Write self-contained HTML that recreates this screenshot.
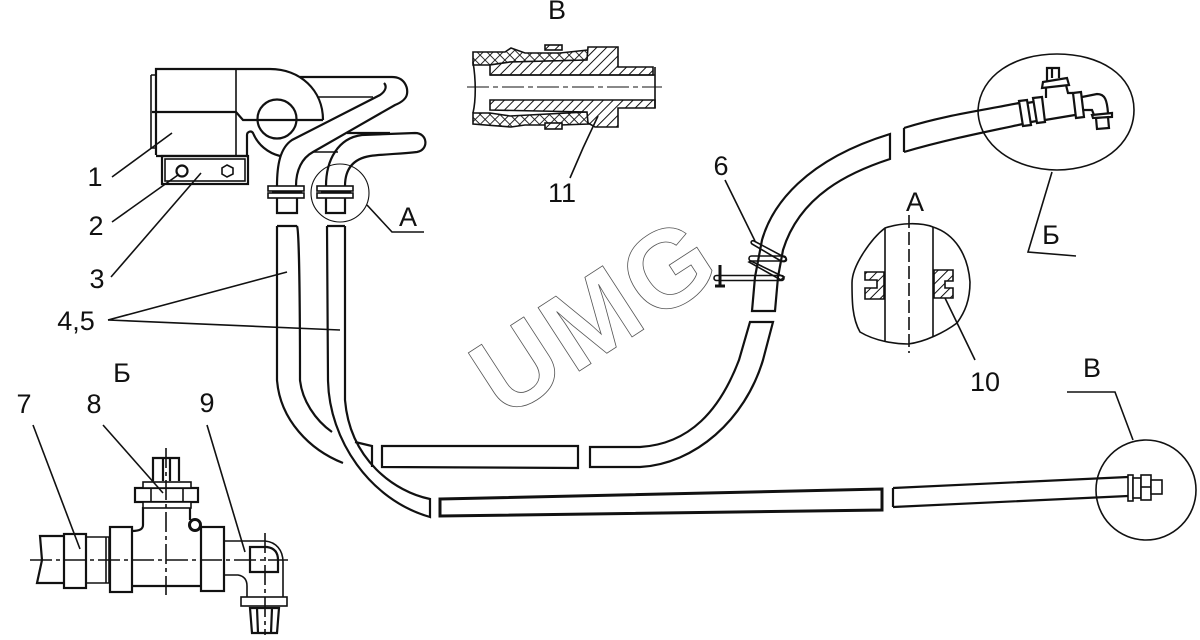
<!DOCTYPE html>
<html><head><meta charset="utf-8"><style>
html,body{margin:0;padding:0;background:#fff}svg{display:block}
text{font-family:"Liberation Sans",sans-serif;font-size:27px;fill:#111;text-anchor:middle}
.s path,.s line,.s rect,.s circle,.s polygon,.s polyline,.s ellipse{stroke:#111;fill:none;stroke-width:1.6}
.s .t,.t{stroke-width:2.2!important}.s .n,.n{stroke-width:1.1!important}
.s .w{fill:#fff}
</style></head><body>
<svg width="1200" height="640" viewBox="0 0 1200 640" xmlns="http://www.w3.org/2000/svg">
<defs>
<pattern id="h" width="7" height="7" patternUnits="userSpaceOnUse" patternTransform="rotate(45)"><rect width="7" height="7" fill="#fff"/><line x1="0" y1="0" x2="0" y2="7" stroke="#111" stroke-width="2"/></pattern>
<pattern id="x" width="7" height="7" patternUnits="userSpaceOnUse" patternTransform="rotate(45)"><rect width="7" height="7" fill="#fff"/><path d="M0 0V7M0 0H7" stroke="#111" stroke-width="1.8" fill="none"/></pattern>
</defs>
<g transform="translate(504 420) rotate(-33)"><text x="0" y="0" style="font-size:110px;font-weight:bold;letter-spacing:3px;text-anchor:start;fill:none;stroke:#555;stroke-width:.8">UMG</text></g>
<g class="s">
<!-- top-left assembly -->
<path d="M151 75H156M151 75V148H156"/>
<path d="M156 155V69H270C300 69 323 90 323 120" class="t"/>
<path d="M156 156H247V135C247 132 251 130 253 133C258 145 268 153 280 156" class="t"/>
<line x1="236" y1="69" x2="236" y2="156"/>
<path d="M152 112H236L243 120H323" class="t"/>
<circle cx="277" cy="119" r="19.5" class="t"/>
<path d="M300 77H392C405 77 408 88 407 94C406 100 400 103 395 105L313 152C302 158 296 170 296 186" class="t"/>
<path d="M277 186C277 165 280 148 292 140L380 95C386 91 387 86 384 83" class="t"/>
<line x1="318" y1="97" x2="373" y2="97"/>
<line x1="313" y1="152" x2="338" y2="152"/>
<path d="M326 186C326 160 338 138 362 135L415 133C428 133 429 150 417 152C400 154 385 154 370 156C352 159 345 170 345 186" class="t"/>
<line x1="347" y1="133" x2="390" y2="133" class="t"/>
<rect x="162" y="156" width="86" height="28" class="t"/><rect x="165" y="159" width="80" height="22"/>
<circle cx="182" cy="171" r="5.5" class="t"/>
<polygon points="227,165 233,168 233,174 227,177 222,174 222,168"/>
<rect x="268" y="186" width="36" height="5"/><rect x="268" y="193" width="36" height="5" /><line x1="272" y1="192" x2="302" y2="192"/>
<rect x="317" y="186" width="36" height="5"/><rect x="317" y="193" width="36" height="5"/><line x1="321" y1="192" x2="351" y2="192"/>
<path d="M277 198V213H297V198M326 198V213H345V198" class="t"/>
<circle cx="340" cy="193" r="29" class="n"/>
<polyline points="367,205 392,232 424,232"/>
<line x1="112" y1="177" x2="172" y2="133" /><line x1="112" y1="222" x2="178" y2="175"/><line x1="111" y1="277" x2="201" y2="173"/>
<line x1="108" y1="320" x2="287" y2="272"/><line x1="108" y1="320" x2="340" y2="330"/>
<!-- tubes -->
<path d="M277 226H297M297 226C299 230 300 300 300 380C302 400 315 420 332 432M355 442L372 446V467M277 226V380C280 420 310 450 343 463" class="t"/>
<path d="M345 226H327M327 226L328 380C329 440 370 500 430 517V499C395 492 350 460 345 400V226" class="t"/>
<polygon points="382,446 578,446 578,468 382,467" class="t"/>
<path d="M590 447H640C690 444 720 410 739 360L750 322H773L763 360C745 420 695 464 640 467H590Z" class="t"/>
<path d="M752 311L755 277L762 240C772 205 805 160 890 134V159C850 172 800 195 783 250L778 277L775 311Z" class="t"/>
<path d="M904 128C945 115 985 110 1019 103M904 152C945 140 985 132 1023 124M904 128V152" class="t"/>
<polygon points="440,499 882,489 882,510 440,516" class="t" style="stroke-width:3!important"/>
<path d="M893 488L1128 477M893 507L1128 496M893 488V507" class="t"/>
<!-- spring -->
<line x1="725" y1="180" x2="755" y2="241"/>
<g class="n" style="stroke-width:1.4">
<path d="M754 241L786 258C788 262 783 262 781 261L752 244C750 242 752 240 754 241Z"/>
<rect x="749" y="256" width="37" height="5" rx="2.5"/>
<path d="M751 261L784 277L781 280L749 262Z"/>
<rect x="714" y="275.500" width="70" height="5" rx="2.5"/>
</g>
<path d="M720 265V286M715 286H725" class="t" style="stroke-width:3!important"/>
<!-- Б circle -->
<path d="M978 110C980 75 1015 54 1057 54C1100 54 1134 75 1134 110C1134 145 1100 170 1057 170C1015 170 978 145 978 110Z"/>
<polyline points="1052,172 1028,252 1076,256"/>
<path d="M1027 103L1033 102M1031 122L1037 121" class="t"/>
<polygon points="1019,101 1027,100 1031,125 1023,126" class="w t"/><polygon points="1033,98 1042,97 1045,122 1037,123" class="w t"/>
<path d="M1046 98V88M1066 85L1068 93H1073M1045 120L1075 115" class="t"/>
<polygon points="1043,82 1067,78 1069,85 1042,88" class="w t"/>
<path d="M1047 81L1047 68H1059L1059 78M1052 68V78" class="t"/>
<polygon points="1073,93 1081,92 1084,117 1076,118" class="w t"/>
<path d="M1082 97L1097 94C1105 94 1107 100 1108 113M1084 110H1092L1094 115" class="t"/>
<path d="M1092 115L1112 113V117L1093 118ZM1096 118L1108 117L1109 128L1097 129Z" class="w t"/>
<!-- Detail В top -->
<path d="M473 52H505L511 48L525 53H560L588 50L587 60L510 62L490 65H473Z" style="fill:url(#x)"/>
<path d="M473 113H490L510 116L587 112L589 124L560 125H525L511 127L473 124Z" style="fill:url(#x)"/>
<path d="M490 75V65L510 62L587 60L588 47H618V67H653V75H490Z" style="fill:url(#h)"/>
<path d="M490 100V110L587 112L588 123L595 127H618V108H655V100H490Z" style="fill:url(#h)"/>
<path d="M473 62C476 80 476 100 473 113"/>
<rect x="545" y="45" width="17" height="5" style="fill:url(#h)"/><rect x="545" y="123" width="17" height="6" style="fill:url(#h)"/>
<path d="M490 75H655V67M655 100V108M655 75V100"/>
<path d="M467 87H662" stroke-dasharray="22 4 5 4" class="n"/>
<polyline points="598,116 583,148 570,178"/>
<!-- Detail А -->
<path d="M885 228C900 223 920 222 933 227C955 234 968 255 970 282C970 300 965 312 957 323C945 332 925 342 908 344C895 344 875 341 860 332C852 318 852 300 852 283C852 265 872 238 885 228Z"/>
<path d="M885 228V341M933 227V337"/>
<path d="M909 215V353" stroke-dasharray="13 4"/>
<path d="M865 272H884V299H865V288H877V280H865Z" style="fill:url(#h)"/>
<path d="M934 270H953V281H945V288H953V298H934Z" style="fill:url(#h)"/>
<line x1="945" y1="298" x2="975" y2="360"/>
<!-- В circle -->
<circle cx="1146" cy="490" r="50"/>
<rect x="1128" y="475" width="5" height="26" class="w"/><rect x="1133" y="478" width="8" height="20" class="w"/><rect x="1141" y="475" width="10" height="25" class="w"/><line x1="1141" y1="487" x2="1151" y2="487"/><rect x="1151" y="480" width="11" height="14" class="w"/>
<polyline points="1067,392 1115,392 1133,440"/>
<!-- Detail Б lower-left -->
<path d="M65 536H40L42 560L37 583H65" class="t"/>
<rect x="64" y="534" width="22" height="54" class="w t"/>
<path d="M86 537H109V583H86M106 537V583"/>
<rect x="110" y="527" width="22" height="65" class="w t"/>
<path d="M132 531C140 531 143 529 143 525V507M132 586H201M190 507V520" class="t"/>
<rect x="135" y="488" width="63" height="14" class="w t"/><path d="M151 488V502M183 488V502"/>
<rect x="143" y="482" width="48" height="6" class="w"/>
<rect x="143" y="502" width="48" height="6" class="w"/>
<path d="M153 481V458H179V481M163 458V481M170 458V481" class="t"/>
<circle cx="195" cy="525" r="5.500" class="t" style="stroke-width:3!important"/>
<rect x="201" y="527" width="23" height="64" class="w t"/>
<path d="M224 541H265C276 542 283 550 283 562V597M224 575H238C244 576 247 580 247 586V597"/>
<path d="M250 547H267C274 548 278 552 278 560V572H250Z" class="t"/>
<rect x="241" y="597" width="46" height="9" class="w"/>
<path d="M250 608L252 633H277L279 608ZM257 608L258 633M272 608L271 633" class="t"/>
<path d="M30 560H288" stroke-dasharray="22 4 4 4"/>
<path d="M166 448V595M265 533V635" stroke-dasharray="20 4 4 4"/>
<line x1="33" y1="425" x2="80" y2="549"/><line x1="103" y1="425" x2="163" y2="493"/><line x1="207" y1="425" x2="245" y2="552"/>
</g>
<text x="95" y="186">1</text><text x="96" y="235">2</text><text x="97" y="288">3</text>
<text x="76" y="330">4,5</text><text x="721" y="175">6</text>
<text x="24" y="413">7</text><text x="94" y="413">8</text><text x="207" y="412">9</text>
<text x="985" y="391">10</text><text x="562" y="202">11</text>
<text x="408" y="226">А</text><text x="915" y="211">А</text>
<text x="122" y="382">Б</text><text x="1051" y="244">Б</text>
<text x="557" y="19">В</text><text x="1092" y="377">В</text>
</svg>
</body></html>
